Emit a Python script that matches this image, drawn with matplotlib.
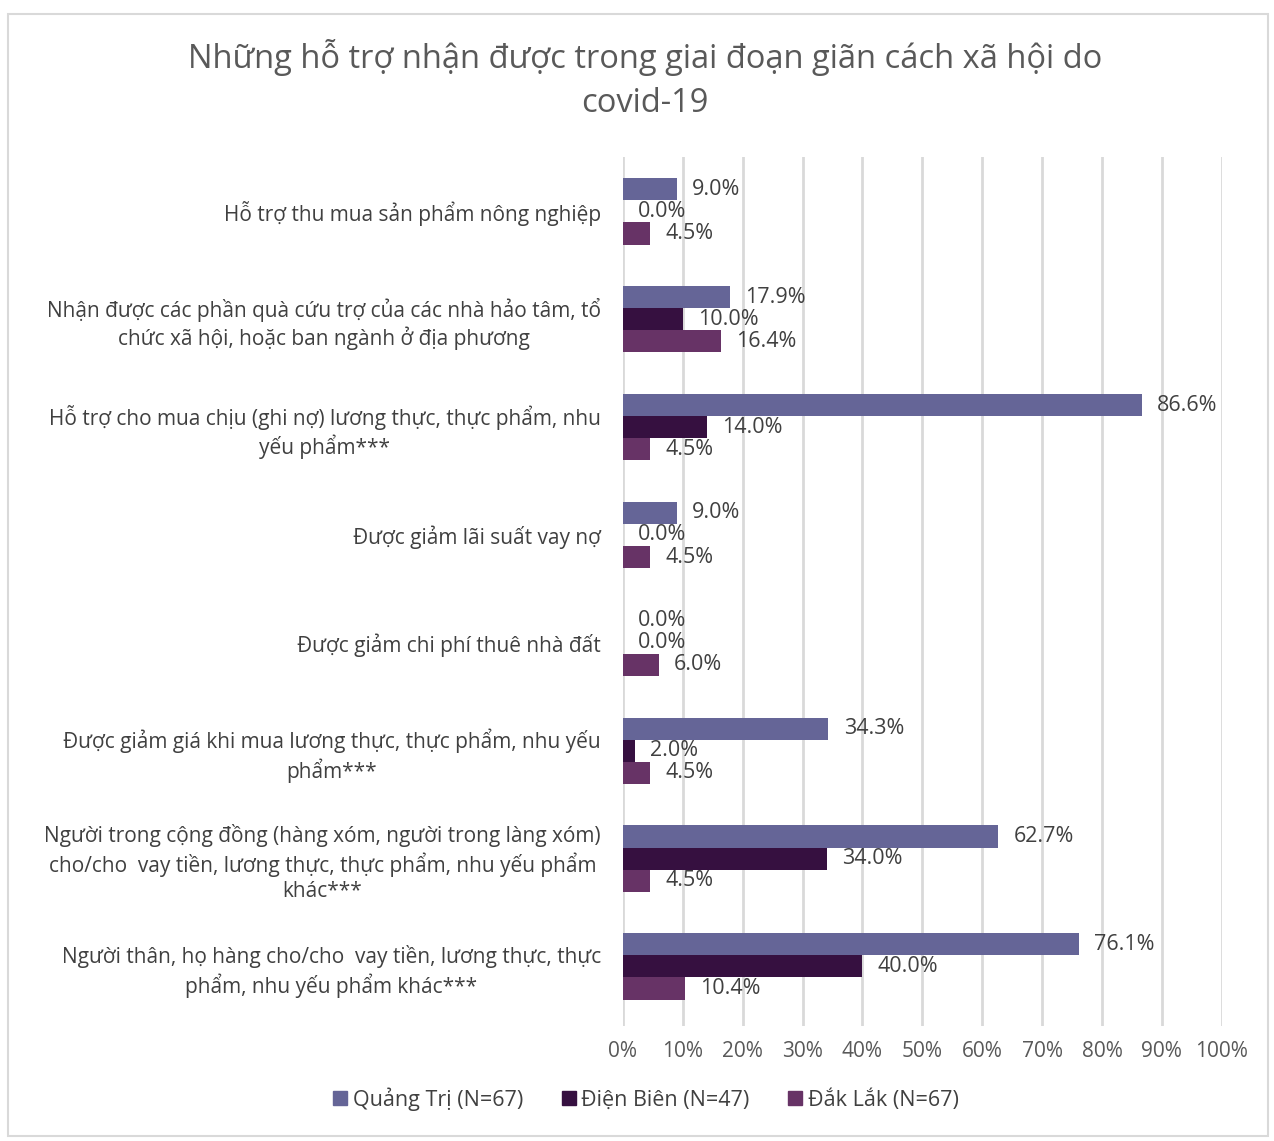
import matplotlib.pyplot as plt
import matplotlib.patches as mpatches
import numpy as np

plt.rcParams['font.family'] = ['Open Sans', 'DejaVu Sans']

categories = [
    "Hỗ trợ thu mua sản phẩm nông nghiệp",
    "Nhận được các phần quà cứu trợ của các nhà hảo tâm, tổ\nchức xã hội, hoặc ban ngành ở địa phương",
    "Hỗ trợ cho mua chịu (ghi nợ) lương thực, thực phẩm, nhu\nyếu phẩm***",
    "Được giảm lãi suất vay nợ",
    "Được giảm chi phí thuê nhà đất",
    "Được giảm giá khi mua lương thực, thực phẩm, nhu yếu\nphẩm***",
    "Người trong cộng đồng (hàng xóm, người trong làng xóm)\ncho/cho  vay tiền, lương thực, thực phẩm, nhu yếu phẩm\nkhác***",
    "Người thân, họ hàng cho/cho  vay tiền, lương thực, thực\nphẩm, nhu yếu phẩm khác***",
]
series_names = ["Quảng Trị (N=67)", "Điện Biên (N=47)", "Đắk Lắk (N=67)"]
quang_tri = [9.0, 17.9, 86.6, 9.0, 0.0, 34.3, 62.7, 76.1]
dien_bien = [0.0, 10.0, 14.0, 0.0, 0.0, 2.0, 34.0, 40.0]
dak_lak = [4.5, 16.4, 4.5, 4.5, 6.0, 4.5, 4.5, 10.4]
colors = ["#656597", "#361040", "#673366"]

fig = plt.figure(figsize=(12.74, 11.41), dpi=100)
ax = fig.add_axes([0.489, 0.101, 0.470, 0.761])

y = np.arange(len(categories))
h = 0.205
for i, (vals, col, name) in enumerate(zip([quang_tri, dien_bien, dak_lak], colors, series_names)):
    pos = y + (i - 1) * h
    ax.barh(pos, vals, height=h, color=col, label=name, zorder=3)
    for p, v in zip(pos, vals):
        ax.annotate(f"{v:.1f}%", (v, p), xytext=(11, 0), textcoords='offset points',
                    va='center', ha='left', fontsize=15.5, color='#404040', zorder=4)

ax.set_xlim(0, 100)
ax.set_ylim(len(categories) - 0.45, -0.5)
ax.set_xticks(np.arange(0, 101, 10))
ax.set_xticklabels([f"{t}%" for t in range(0, 101, 10)])
ax.set_yticks(y)
ax.set_yticklabels(categories, multialignment='center', linespacing=1.25)
ax.tick_params(axis='x', length=0, pad=11, labelsize=15, labelcolor='#595959')
ax.tick_params(axis='y', length=0, pad=16, labelsize=15, labelcolor='#404040')
ax.grid(axis='x', color='#d9d9d9', linewidth=2, zorder=0)
for s in ax.spines.values():
    s.set_visible(False)

fig.suptitle("Những hỗ trợ nhận được trong giai đoạn giãn cách xã hội do\ncovid-19",
             x=0.506, y=0.966, fontsize=23.5, color='#595959', linespacing=1.45)

handles = [mpatches.Patch(color=c) for c in colors]
fig.legend(handles, series_names, loc='center', bbox_to_anchor=(0.507, 0.037), ncol=3,
           frameon=False, fontsize=15.5, handlelength=0.65, handleheight=0.65,
           handletextpad=0.25, columnspacing=1.8, labelcolor='#404040')

# outer chart frame
fig.patches.append(mpatches.Rectangle((0.006, 0.004), 0.989, 0.984, transform=fig.transFigure,
                                      fill=False, edgecolor='#d9d9d9', linewidth=1.5))

fig.savefig("out.png", dpi=100)
